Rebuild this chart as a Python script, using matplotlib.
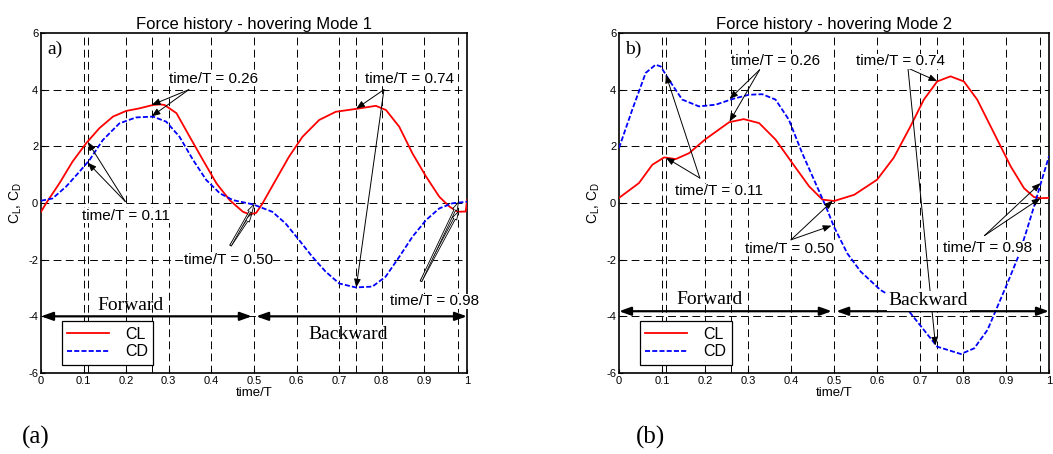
import numpy as np
import matplotlib.pyplot as plt

plt.rcParams['font.family'] = ['Liberation Sans', 'DejaVu Sans']
plt.rcParams['mathtext.fontset'] = 'custom'
plt.rcParams['mathtext.rm'] = 'Liberation Sans'
plt.rcParams['mathtext.it'] = 'Liberation Sans'
plt.rcParams['axes.unicode_minus'] = False

# ---- Mode 1 data ----
t_cl_1 = [0.0, 0.012, 0.043, 0.074, 0.106, 0.137, 0.169, 0.2, 0.231, 0.263, 0.28, 0.29, 0.318,
          0.349, 0.38, 0.412, 0.443, 0.474, 0.49, 0.505, 0.519, 0.551, 0.582, 0.614, 0.653,
          0.692, 0.739, 0.765, 0.786, 0.81, 0.841, 0.872, 0.904, 0.935, 0.959, 0.978, 0.997, 1.0]
cl_1 = [-0.31, -0.01, 0.69, 1.46, 2.11, 2.64, 3.05, 3.25, 3.34, 3.46, 3.48, 3.46, 3.17,
        2.34, 1.52, 0.69, 0.1, -0.31, -0.4, -0.35, -0.04, 0.81, 1.63, 2.34, 2.93,
        3.22, 3.32, 3.38, 3.43, 3.28, 2.69, 1.75, 0.93, 0.22, -0.13, -0.31, -0.3, 0.1]
t_cd_1 = [0.0, 0.027, 0.059, 0.09, 0.114, 0.145, 0.184, 0.223, 0.263, 0.294, 0.325, 0.357, 0.388,
          0.42, 0.451, 0.498, 0.543, 0.574, 0.606, 0.637, 0.668, 0.7, 0.739, 0.778, 0.809,
          0.841, 0.872, 0.904, 0.935, 0.966, 0.99, 1.0]
cd_1 = [0.08, 0.16, 0.58, 1.1, 1.52, 2.22, 2.81, 3.02, 3.05, 2.87, 2.34, 1.52, 0.81,
        0.34, 0.1, -0.05, -0.31, -0.72, -1.31, -1.9, -2.42, -2.84, -2.98, -2.95, -2.6,
        -1.9, -1.19, -0.6, -0.19, -0.01, 0.03, 0.05]

# ---- Mode 2 data ----
t_cl_2 = [0.0, 0.0465, 0.0775, 0.105, 0.132, 0.163, 0.2, 0.256, 0.29, 0.326, 0.364, 0.403,
          0.442, 0.473, 0.5, 0.547, 0.6, 0.639, 0.678, 0.709, 0.74, 0.771, 0.802, 0.833,
          0.872, 0.911, 0.942, 0.965, 0.981, 1.0]
cl_2 = [0.18, 0.705, 1.35, 1.61, 1.55, 1.76, 2.24, 2.85, 2.96, 2.82, 2.24, 1.41,
        0.59, 0.12, 0.07, 0.29, 0.82, 1.6, 2.71, 3.65, 4.29, 4.47, 4.29, 3.65,
        2.47, 1.29, 0.52, 0.21, 0.17, 0.18]
t_cd_2 = [0.0, 0.031, 0.062, 0.085, 0.097, 0.116, 0.147, 0.186, 0.225, 0.264, 0.302, 0.333,
          0.364, 0.395, 0.426, 0.457, 0.481, 0.5, 0.531, 0.562, 0.608, 0.645, 0.678, 0.709,
          0.74, 0.795, 0.826, 0.857, 0.88, 0.903, 0.927, 0.946, 0.965, 0.981, 1.0]
cd_2 = [1.94, 3.3, 4.59, 4.88, 4.82, 4.35, 3.65, 3.41, 3.47, 3.67, 3.82, 3.84,
        3.65, 2.94, 1.76, 0.7, -0.12, -0.84, -1.78, -2.42, -3.07, -3.4, -3.89, -4.48,
        -5.07, -5.33, -5.13, -4.48, -3.66, -2.84, -1.95, -1.07, -0.13, 0.7, 1.65]

event_times = [0.11, 0.26, 0.50, 0.74, 0.98]
x_ticks = [0, 0.1, 0.2, 0.3, 0.4, 0.5, 0.6, 0.7, 0.8, 0.9, 1.0]
x_tick_labels = ['0', '0.1', '0.2', '0.3', '0.4', '0.5', '0.6', '0.7', '0.8', '0.9', '1']
y_ticks = [-6, -4, -2, 0, 2, 4, 6]

serif = ['Liberation Serif', 'DejaVu Serif']
W, H = 1053, 454
fig = plt.figure(figsize=(W / 100, H / 100), dpi=100)
ax1 = fig.add_axes([41 / W, 1 - 373 / H, 426 / W, 340 / H])
ax2 = fig.add_axes([619 / W, 1 - 373 / H, 430 / W, 340 / H])


def setup(ax, title):
    ax.set_xlim(0, 1)
    ax.set_ylim(-6, 6)
    ax.set_xticks(x_ticks)
    ax.set_xticklabels(x_tick_labels)
    ax.set_yticks(y_ticks)
    ax.tick_params(direction='in', length=3, labelsize=8, pad=2)
    dash = (0, (8, 4.5))
    for x in sorted(set([0.1, 0.2, 0.3, 0.4, 0.5, 0.6, 0.7, 0.8, 0.9] + event_times)):
        ax.axvline(x, color='black', lw=0.7, ls=dash, zorder=0)
    for y in [-4, -2, 0, 2, 4]:
        ax.axhline(y, color='black', lw=0.7, ls=dash, zorder=0)
    for s in ax.spines.values():
        s.set_linewidth(1.2)
    ax.set_title(title, fontsize=12, pad=3)
    ax.set_xlabel('time/T', fontsize=9.5, labelpad=1)
    ax.set_ylabel('C$_L$, C$_D$', fontsize=10, labelpad=3)


def note(ax, text, xy_text, targets, hollow=False):
    for xy in targets:
        if hollow:
            props = dict(arrowstyle='simple,head_width=0.35,head_length=0.6,tail_width=0.12',
                         fc='white', ec='black', lw=0.6, shrinkA=0, shrinkB=0)
        else:
            props = dict(arrowstyle='-|>,head_width=0.2,head_length=0.5', color='black',
                         lw=0.7, shrinkA=0, shrinkB=0)
        ax.annotate('', xy=xy, xytext=xy_text[1], arrowprops=props, zorder=4)
    ax.text(xy_text[0][0], xy_text[0][1], text, fontsize=11, ha='center', va='center',
            bbox=dict(fc='white', ec='none', pad=0.3), zorder=5)


arrow2 = dict(arrowstyle='<|-|>,head_width=0.25,head_length=0.7', color='black',
              lw=1.6, shrinkA=0, shrinkB=0)

# ---- panel a ----
setup(ax1, 'Force history - hovering Mode 1')
ax1.plot(t_cl_1, cl_1, color='red', lw=1.3, label='CL', zorder=3)
ax1.plot(t_cd_1, cd_1, color='blue', lw=1.3, ls=(0, (2.8, 1.2)), label='CD', zorder=3)
ax1.text(0.015, 5.25, 'a)', fontsize=14, family=serif)

note(ax1, 'time/T = 0.26', ((0.405, 4.38), (0.347, 4.0)), [(0.26, 3.46), (0.26, 3.06)])
note(ax1, 'time/T = 0.74', ((0.864, 4.38), (0.805, 4.0)), [(0.74, 3.33), (0.74, -2.98)])
note(ax1, 'time/T = 0.11', ((0.2, -0.45), (0.198, 0.05)), [(0.11, 2.15), (0.11, 1.42)])
note(ax1, 'time/T = 0.50', ((0.44, -2.0), (0.445, -1.5)), [(0.495, -0.38), (0.5, -0.05)],
     hollow=True)
note(ax1, 'time/T = 0.98', ((0.925, -3.47), (0.892, -2.76)), [(0.98, -0.3), (0.98, 0.03)],
     hollow=True)

ax1.annotate('', xy=(0.0, -4), xytext=(0.495, -4), arrowprops=arrow2, zorder=4)
ax1.annotate('', xy=(0.505, -4), xytext=(1.0, -4), arrowprops=arrow2, zorder=4)
ax1.text(0.21, -3.6, 'Forward', fontsize=14, family=serif, ha='center', va='center')
ax1.text(0.72, -4.65, 'Backward', fontsize=14, family=serif, ha='center', va='center')
leg = ax1.legend(loc='lower left', bbox_to_anchor=(0.03, 0.0), fontsize=11.5, fancybox=False,
                 edgecolor='black', framealpha=1, handlelength=2.6, borderpad=0.35,
                 labelspacing=0.15, handletextpad=1.0)
leg.get_frame().set_linewidth(0.9)
leg.set_zorder(6)

# ---- panel b ----
setup(ax2, 'Force history - hovering Mode 2')
ax2.plot(t_cl_2, cl_2, color='red', lw=1.3, label='CL', zorder=3)
ax2.plot(t_cd_2, cd_2, color='blue', lw=1.3, ls=(0, (2.8, 1.2)), label='CD', zorder=3)
ax2.text(0.015, 5.25, 'b)', fontsize=14, family=serif)

note(ax2, 'time/T = 0.26', ((0.365, 5.0), (0.327, 4.7)), [(0.257, 3.67), (0.257, 2.87)])
note(ax2, 'time/T = 0.74', ((0.655, 5.0), (0.672, 4.76)), [(0.74, 4.3), (0.736, -5.03)])
note(ax2, 'time/T = 0.11', ((0.232, 0.41), (0.188, 0.88)), [(0.109, 4.53), (0.109, 1.6)])
note(ax2, 'time/T = 0.50', ((0.397, -1.62), (0.4, -1.3)), [(0.497, 0.08), (0.494, -0.8)])
note(ax2, 'time/T = 0.98', ((0.858, -1.59), (0.85, -1.15)), [(0.98, 0.7), (0.98, 0.17)])

ax2.annotate('', xy=(0.0, -3.82), xytext=(0.495, -3.82), arrowprops=arrow2, zorder=4)
ax2.annotate('', xy=(0.505, -3.82), xytext=(1.0, -3.82), arrowprops=arrow2, zorder=4)
ax2.text(0.21, -3.4, 'Forward', fontsize=14, family=serif, ha='center', va='center')
ax2.text(0.72, -3.45, 'Backward', fontsize=14, family=serif, ha='center', va='center',
         bbox=dict(fc='white', ec='none', pad=1), zorder=5)
leg = ax2.legend(loc='lower left', bbox_to_anchor=(0.03, 0.0), fontsize=11.5, fancybox=False,
                 edgecolor='black', framealpha=1, handlelength=2.6, borderpad=0.35,
                 labelspacing=0.15, handletextpad=1.0)
leg.get_frame().set_linewidth(0.9)
leg.set_zorder(6)

fig.text(22 / W, 1 - 437 / H, '(a)', fontsize=18, family=serif, va='center')
fig.text(636 / W, 1 - 437 / H, '(b)', fontsize=18, family=serif, va='center')

fig.savefig('out.png', dpi=100)
